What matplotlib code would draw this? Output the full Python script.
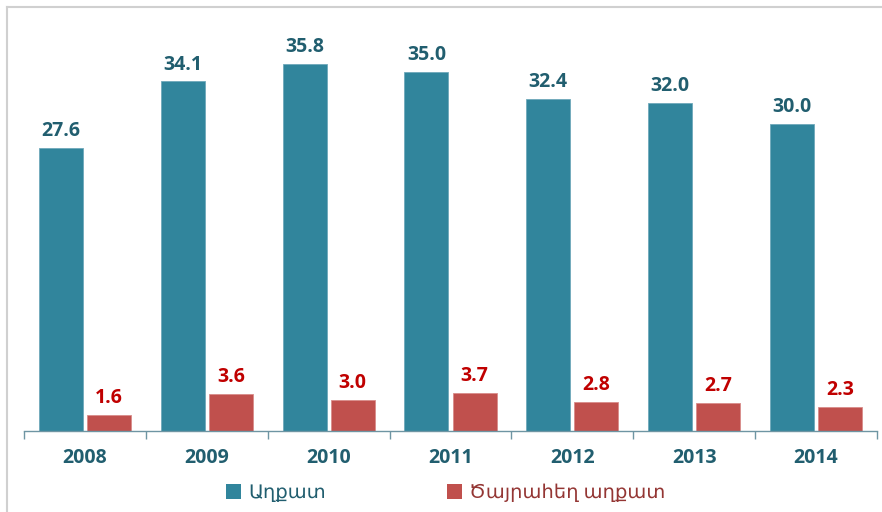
import matplotlib
matplotlib.use("Agg")
import matplotlib.pyplot as plt
from matplotlib.lines import Line2D
from matplotlib.patches import Patch
import numpy as np

years = ["2008", "2009", "2010", "2011", "2012", "2013", "2014"]
poor = [27.6, 34.1, 35.8, 35.0, 32.4, 32.0, 30.0]
extreme = [1.6, 3.6, 3.0, 3.7, 2.8, 2.7, 2.3]
series_names = ["Աղքատ", "Ծայրահեղ աղքատ"]

teal = "#31859C"
red = "#C0504D"
teal_txt = "#215E6F"
red_txt = "#C00000"
legend_red_txt = "#943634"

W, H = 882, 512
fig = plt.figure(figsize=(W / 100, H / 100), dpi=100)
ax = fig.add_axes([24 / W, (H - 431) / H, (877 - 24) / W, (431 - 21) / H])

x = np.arange(len(years))
bw = 0.36
gap = 0.035
b1 = ax.bar(x - bw / 2 - gap / 2, poor, bw, color=teal, edgecolor="#6FA9BA", linewidth=0.6)
b2 = ax.bar(x + bw / 2 + gap / 2, extreme, bw, color=red, edgecolor="#D98C8A", linewidth=0.6)

fnum = ["Open Sans", "DejaVu Sans"]
for rect, v in zip(b1, poor):
    ax.annotate(f"{v:.1f}", (rect.get_x() + rect.get_width() / 2, v), xytext=(0, 5),
                textcoords="offset points", ha="center", va="bottom",
                fontsize=14, fontweight="bold", color=teal_txt, family=fnum)
for rect, v in zip(b2, extreme):
    ax.annotate(f"{v:.1f}", (rect.get_x() + rect.get_width() / 2, v), xytext=(0, 5),
                textcoords="offset points", ha="center", va="bottom",
                fontsize=14, fontweight="bold", color=red_txt, family=fnum)

ax.set_xlim(-0.5, len(years) - 0.5)
ax.set_ylim(0, 40)
ax.set_yticks([])
for s in ["top", "right", "left"]:
    ax.spines[s].set_visible(False)
ax.spines["bottom"].set_color("#6E95A3")
ax.spines["bottom"].set_linewidth(1.0)
ax.set_xticks(x)
ax.set_xticklabels(years, fontsize=14, fontweight="bold", color=teal_txt, family=fnum)
ax.tick_params(axis="x", which="major", length=0, pad=12)
ax.set_xticks(np.arange(-0.5, len(years), 1.0), minor=True)
ax.tick_params(axis="x", which="minor", length=6, color="#6E95A3", width=1.0)

handles = [Patch(facecolor=teal, edgecolor="none"), Patch(facecolor=red, edgecolor="none")]
leg = fig.legend(handles, series_names, loc="center", bbox_to_anchor=(446 / W, 1 - 493 / H),
                 ncol=2, frameon=False, handlelength=0.75, handleheight=0.75,
                 handletextpad=0.4, columnspacing=6.2,
                 prop={"family": ["Lato", "DejaVu Sans"], "size": 14})
leg.get_texts()[0].set_color(teal_txt)
leg.get_texts()[1].set_color(legend_red_txt)

# figure border (top and left)
fig.add_artist(Line2D([7 / W, 1], [1 - 7 / H, 1 - 7 / H], color="#D0D0D0", linewidth=1.5, transform=fig.transFigure))
fig.add_artist(Line2D([7 / W, 7 / W], [0, 1 - 7 / H], color="#D0D0D0", linewidth=1.5, transform=fig.transFigure))

fig.savefig("out.png", dpi=100)
